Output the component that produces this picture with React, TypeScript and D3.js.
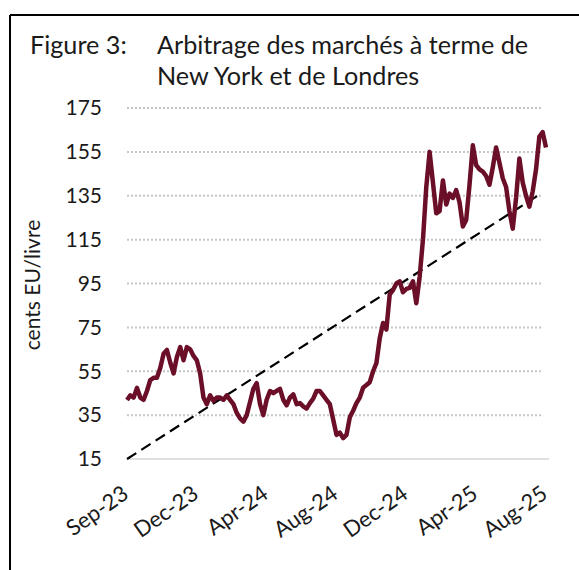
import React from 'react';
import * as d3 from 'd3';

// Arbitrage NY vs London (cents EU/livre), evenly spaced observations Sep-23 .. Aug-25
const arbitrage = [
  41.9, 44, 43, 47.4, 43, 42, 46, 51, 52, 52,
  56.5, 63, 64.7, 59, 54, 61.5, 66, 60, 66, 65,
  62, 60, 54, 43, 40, 44, 41.5, 43, 43, 42,
  44, 42, 40, 36, 33.5, 32, 35, 41, 47, 49.6,
  40, 35, 42, 46, 45, 46, 47, 42, 39.5, 43,
  44.5, 40, 40.5, 39, 38, 40.5, 42.5, 46, 46, 44,
  42, 40, 33, 26, 27, 24.5, 26, 34, 37, 40.5,
  43, 47.5, 48.7, 50, 55, 58.7, 70, 77, 74, 90,
  92, 95, 96, 91, 92.5, 93, 96, 86, 98, 115,
  139, 155, 141, 127, 128, 142, 131, 136, 134, 137.6,
  132, 121, 124, 140, 158, 149, 147, 146, 144, 140,
  148, 157, 150, 143, 139, 128, 120, 134, 152, 141,
  135, 130, 137, 147, 162, 164, 157,
];

const trendEnds = [15, 136];
const yTicks = [15, 35, 55, 75, 95, 115, 135, 155, 175];
const xLabels = ['Sep-23', 'Dec-23', 'Apr-24', 'Aug-24', 'Dec-24', 'Apr-25', 'Aug-25'];

const FONT = 'Lato, "Open Sans", sans-serif';

export default function App() {
  const W = 579;
  const H = 570;
  const left = 127;
  const right = 546;
  const x = d3.scaleLinear().domain([0, arbitrage.length - 1]).range([left, right]);
  const y = d3.scaleLinear().domain([15, 175]).range([459, 108]);
  const xl = d3.scalePoint<string>().domain(xLabels).range([left, right]);

  const line = d3
    .line<number>()
    .x((_, i) => x(i))
    .y((d) => y(d))
    .curve(d3.curveLinear);

  const gridTicks = yTicks.filter((t) => t !== 15);

  return (
    <svg
      width={W}
      height={H}
      style={{ position: 'absolute', left: 0, top: 0, background: '#fff' }}
      fontFamily={FONT}
    >
      <rect x={0} y={0} width={W} height={H} fill="#fff" />
      {/* frame */}
      <line x1={10} y1={15} x2={W} y2={15} stroke="#000" strokeWidth={2} />
      <line x1={10} y1={15} x2={10} y2={H} stroke="#000" strokeWidth={2} />

      {/* title */}
      <text x={30} y={54} fontSize={25.2} fill="#1a1a1a">Figure 3:</text>
      <text x={157} y={54} fontSize={25.2} fill="#1a1a1a">Arbitrage des marchés à terme de</text>
      <text x={157} y={85} fontSize={25.2} fill="#1a1a1a">New York et de Londres</text>

      {/* gridlines */}
      {gridTicks.map((t) => (
        <line
          key={t}
          x1={left}
          x2={543}
          y1={y(t)}
          y2={y(t)}
          stroke="#c6c6c6"
          strokeWidth={2}
          strokeDasharray="2,2"
        />
      ))}
      <line x1={left} x2={549} y1={y(15)} y2={y(15)} stroke="#d4d4d4" strokeWidth={1.5} />

      {/* y tick labels */}
      {yTicks.map((t) => (
        <text key={t} x={102} y={y(t)} dy="0.35em" textAnchor="end" fontSize={21} fill="#1a1a1a">
          {t}
        </text>
      ))}

      {/* y axis title */}
      <text
        transform={`translate(40,285) rotate(-90)`}
        textAnchor="middle"
        fontSize={21}
        fill="#1a1a1a"
      >
        cents EU/livre
      </text>

      {/* x tick labels */}
      {xLabels.map((l) => (
        <text
          key={l}
          transform={`translate(${(xl(l) as number) + 3},${497}) rotate(-35)`}
          textAnchor="end"
          fontSize={22}
          fill="#1a1a1a"
        >
          {l}
        </text>
      ))}

      {/* trend */}
      <line
        x1={x(0)}
        y1={y(trendEnds[0])}
        x2={x(arbitrage.length - 1) - 5}
        y2={y(trendEnds[1])}
        stroke="#000"
        strokeWidth={2.2}
        strokeDasharray="11,6"
      />

      {/* series */}
      <path d={line(arbitrage) || ''} fill="none" stroke="#6b0e27" strokeWidth={4.5} strokeLinejoin="round" />
    </svg>
  );
}
